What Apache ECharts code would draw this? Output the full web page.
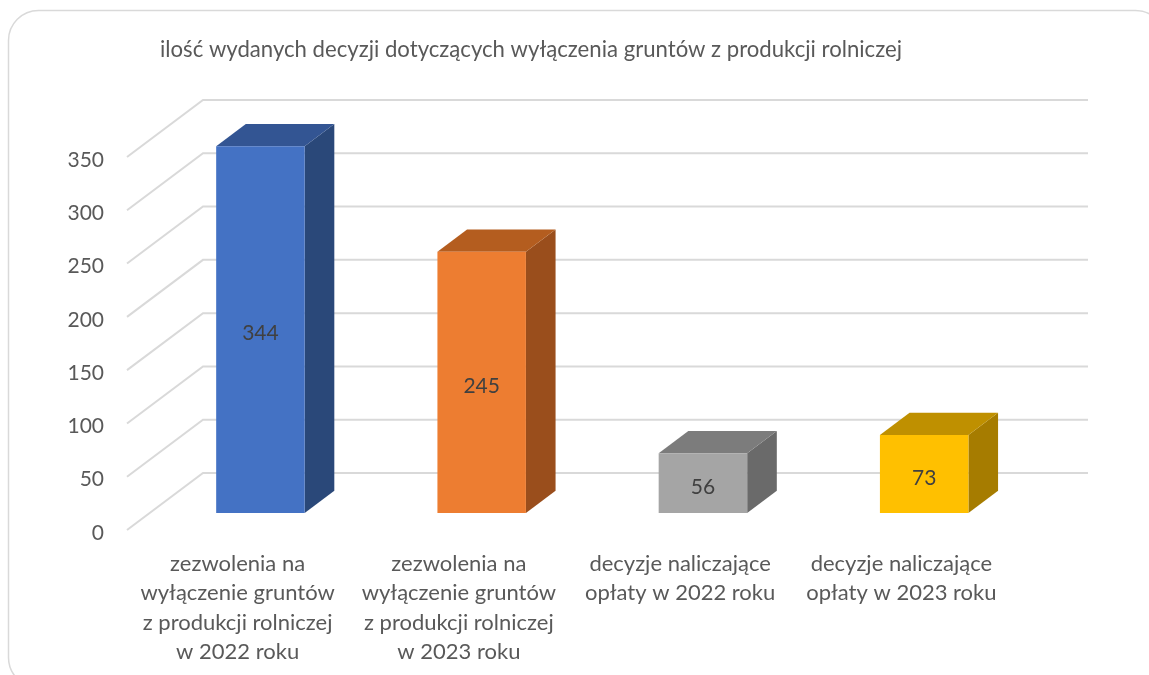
<!DOCTYPE html>
<html><head><meta charset="utf-8">
<style>html,body{margin:0;padding:0;background:#fff}#c{width:1149px;height:675px}</style>
<script src="https://cdn.jsdelivr.net/npm/echarts@6/dist/echarts.min.js"></script>
</head><body><div id="c"></div>
<script>
const titleText = 'ilość wydanych decyzji dotyczących wyłączenia gruntów z produkcji rolniczej';
const categories = [
 'zezwolenia na\nwyłączenie gruntów\nz produkcji rolniczej\nw 2022 roku',
 'zezwolenia na\nwyłączenie gruntów\nz produkcji rolniczej\nw 2023 roku',
 'decyzje naliczające\nopłaty w 2022 roku',
 'decyzje naliczające\nopłaty w 2023 roku'
];
const values = [344, 245, 56, 73];
const ticks = [0, 50, 100, 150, 200, 250, 300, 350];
const frontColors = ['#4472C4', '#ED7D31', '#A5A5A5', '#FFC000'];
const topColors = ['#335593', '#B45D1F', '#7C7C7C', '#BF9000'];
const sideColors = ['#2A4879', '#9A4E1C', '#6A6A6A', '#A67C00'];

const FONT = 'Lato';
const depthX = 76, depthY = -57;     // oblique projection of the floor depth
const zNear = 0.3, zFar = 0.69, barShare = 0.4;

const chart = echarts.init(document.getElementById('c'));
chart.setOption({
  animation: false,
  backgroundColor: '#fff',
  graphic: [{ type: 'rect', z: -10, silent: true,
    shape: { x: 8.5, y: 10.5, width: 1157, height: 677, r: 30 },
    style: { fill: '#fff', stroke: '#D9D9D9', lineWidth: 1.5 } }],
  title: { text: titleText, left: 160, top: 39, padding: 0,
    textStyle: { fontFamily: FONT, fontSize: 22.15, fontWeight: 'normal', color: '#595959' } },
  grid: { left: 127, right: 137, top: 157, bottom: 145, containLabel: false },
  xAxis: { type: 'category', data: categories,
    axisLine: { show: false }, axisTick: { show: false }, splitLine: { show: false },
    axisLabel: { interval: 0, margin: 19, fontFamily: FONT, fontSize: 22, lineHeight: 29.5, color: '#595959', verticalAlign: 'top' } },
  yAxis: { type: 'value', min: 0, max: 350, interval: 50,
    axisLine: { show: false }, axisTick: { show: false }, splitLine: { show: false },
    axisLabel: { margin: 23, fontFamily: FONT, fontSize: 21, color: '#595959', verticalAlign: 'top', lineHeight: 6 } },
  series: [
    { type: 'custom', name: 'siatka', silent: true, z: 1, clip: false,
      data: ticks.map(t => [0, t]),
      renderItem(params, api) {
        const cs = params.coordSys;
        const y = api.coord([0, api.value(1)])[1];
        return { type: 'polyline',
          shape: { points: [[cs.x, y], [cs.x + depthX, y + depthY], [cs.x + cs.width + depthX, y + depthY]] },
          style: { fill: 'none', stroke: '#D9D9D9', lineWidth: 2 } };
      } },
    { type: 'custom', name: 'decyzje', z: 2, clip: false,
      data: values.map((v, i) => [i, v]),
      renderItem(params, api) {
        const i = api.value(0), v = api.value(1);
        const top = api.coord([i, v]), base = api.coord([i, 0]);
        const band = api.size([1, 0])[0], w = band * barShare;
        const ox = depthX * zNear, oy = depthY * zNear;
        const dx = depthX * (zFar - zNear), dy = depthY * (zFar - zNear);
        const x0 = top[0] - w / 2 + ox, x1 = x0 + w;
        const yT = top[1] + oy, yB = base[1] + oy;
        return { type: 'group', children: [
          { type: 'polygon', shape: { points: [[x1, yT], [x1 + dx, yT + dy], [x1 + dx, yB + dy], [x1, yB]] }, style: { fill: sideColors[i] } },
          { type: 'polygon', shape: { points: [[x0, yT], [x0 + dx, yT + dy], [x1 + dx, yT + dy], [x1, yT]] }, style: { fill: topColors[i] } },
          { type: 'rect', shape: { x: x0, y: yT, width: w, height: yB - yT }, style: { fill: frontColors[i] } },
          { type: 'text', x: (x0 + x1) / 2, y: (yT + yB) / 2 + 4,
            style: { text: String(v), fontFamily: FONT, fontSize: 21, fill: '#404040', align: 'center', verticalAlign: 'middle' } }
        ] };
      } }
  ]
});
</script></body></html>
